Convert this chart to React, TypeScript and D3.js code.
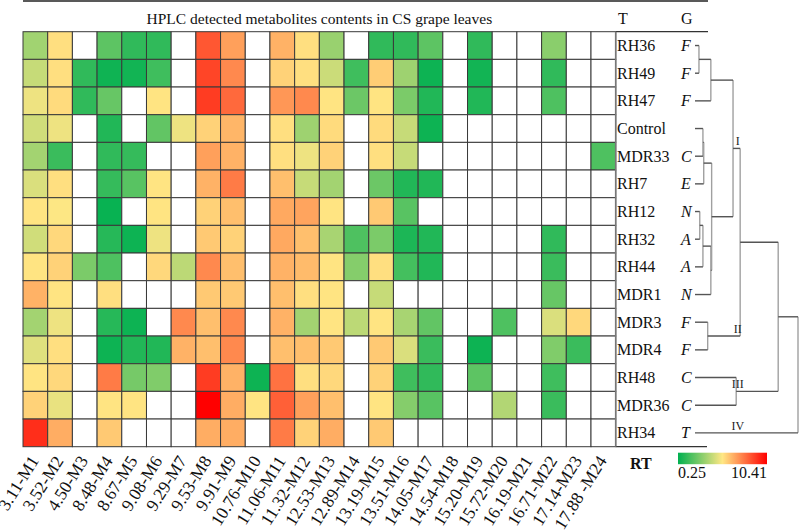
import React from "react";
import * as d3 from "d3";

const columns = [
  "3.11-M1", "3.52-M2", "4.50-M3", "8.48-M4", "8.67-M5", "9.08-M6", "9.29-M7", "9.53-M8",
  "9.91-M9", "10.76-M10", "11.06-M11", "11.32-M12", "12.53-M13", "12.89-M14", "13.19-M15",
  "13.51-M16", "14.05-M17", "14.54-M18", "15.20-M19", "15.72-M20", "16.19-M21", "16.71-M22",
  "17.14-M23", "17.88 -M24",
];

const rowNames = [
  "RH36", "RH49", "RH47", "Control", "MDR33", "RH7", "RH12", "RH32", "RH44", "MDR1",
  "MDR3", "MDR4", "RH48", "MDR36", "RH34",
];

const groups = ["F", "F", "F", "", "C", "E", "N", "A", "A", "N", "F", "F", "C", "C", "T"];

const _ = null;
const values: (number | null)[][] = [
  [3.45, 5.5, _, 2.1, 1.2, 1.2, _, 8.5, 6.9, _, 6.5, 5.5, 3.3, _, 1.2, 1.2, 2.1, _, 1.2, _, _, 3.0, _, _],
  [4.2, 5.5, 1.2, 0.55, 0.6, 1.5, _, 8.9, 7.4, _, 5.8, 5.5, 4.3, 1.5, 5.9, 3.4, 0.5, _, 0.6, _, _, 1.2, _, _],
  [5.0, 5.6, 1.2, 2.3, _, 5.4, _, 9.1, 8.1, _, 7.1, 7.4, 5.4, 2.4, 5.4, 2.7, 0.9, _, 0.9, _, _, 1.8, _, _],
  [4.4, 5.0, _, 0.9, _, 2.2, 5.0, 5.8, 6.4, _, 5.5, 3.4, 5.6, _, 5.6, 4.2, 0.5, _, _, _, _, _, _, _],
  [3.5, 1.4, _, 1.2, 1.3, _, _, 6.9, 6.5, _, 5.5, 5.0, 5.8, _, 5.5, 4.2, _, _, _, _, _, _, _, 1.8],
  [4.6, 5.5, _, 1.3, 2.0, 5.4, _, 6.5, 7.7, _, 6.2, 4.2, 3.5, _, 2.4, 0.9, 0.9, _, _, _, _, _, _, _],
  [5.4, 5.3, _, 0.4, _, 5.4, _, 5.8, 6.2, _, 6.7, 6.8, 5.4, _, 6.0, 2.0, _, _, _, _, _, _, _, _],
  [4.4, 5.65, _, 1.0, 0.5, 5.0, _, 6.0, 5.8, _, 6.7, 6.2, 3.6, 1.8, 2.7, 0.8, 0.9, _, _, _, _, 1.2, _, _],
  [5.4, 5.8, 2.7, 1.8, _, 5.65, 4.0, 7.4, 6.2, _, 6.5, 6.3, 5.4, 2.9, 5.5, 1.6, 0.9, _, _, _, _, 1.4, _, _],
  [6.5, 5.4, _, 5.5, _, _, _, 6.0, 6.0, _, 6.2, 5.5, 5.4, _, 4.2, _, _, _, _, _, _, 2.3, _, _],
  [3.5, 5.0, _, 1.0, 0.5, _, 7.4, 6.2, 7.4, _, 6.5, 3.5, 5.4, 4.0, 5.4, 3.6, 2.2, _, _, 1.8, _, 4.6, 5.65, _],
  [4.7, 5.5, _, 0.5, 0.9, 0.9, 6.5, 6.2, 7.4, _, 6.2, 6.2, 6.0, _, 6.0, 4.6, 1.4, _, 0.5, _, _, 2.8, 1.4, _],
  [5.4, 5.65, _, 7.7, 2.6, 2.8, _, 9.1, 6.5, 0.5, 7.9, 5.5, 5.65, _, 5.8, 1.5, 1.2, _, 2.1, _, _, 1.5, _, _],
  [5.8, 4.9, _, 5.4, 5.4, _, _, 10.41, 6.6, 5.4, 8.3, 6.9, 6.2, _, 5.4, 2.9, 2.0, _, _, 3.8, _, 1.4, _, _],
  [9.4, 6.6, _, 6.0, _, _, _, 6.6, 6.6, _, 7.7, 5.8, 6.6, _, 6.0, _, _, _, _, _, _, _, _, _],
];

const colorStops = [0.25, 5.33, 10.41];
const colorRange = ["#00b050", "#ffe784", "#ff0000"];
const legendTicks = ["0.25", "10.41"];

// dendrogram: merges with heights (distance units)
const merges = [
  { id: "n1", children: ["RH36", "RH49"], height: 0.5 },
  { id: "n2", children: ["n1", "RH47"], height: 2.0 },
  { id: "n3", children: ["Control", "MDR33"], height: 1.0 },
  { id: "n4", children: ["n3", "RH7"], height: 1.1 },
  { id: "n5", children: ["RH12", "RH32"], height: 0.6 },
  { id: "n6", children: ["n5", "RH44"], height: 1.0 },
  { id: "n7", children: ["n6", "MDR1"], height: 2.0 },
  { id: "n8", children: ["n4", "n7"], height: 2.1 },
  { id: "n9", children: ["n2", "n8"], height: 4.8 },
  { id: "n10", children: ["MDR3", "MDR4"], height: 1.6 },
  { id: "n11", children: ["n9", "n10"], height: 5.7 },
  { id: "n12", children: ["RH48", "MDR36"], height: 5.2 },
  { id: "n13", children: ["n11", "n12"], height: 10.5 },
  { id: "root", children: ["n13", "RH34"], height: 13 },
];
const clusterLabels = [
  { node: "n9", label: "I" },
  { node: "n10", label: "II" },
  { node: "n12", label: "III" },
  { node: "RH34", label: "IV" },
];

const FONT = "'Liberation Serif', 'Times New Roman', serif";

export default function App() {
  const W = 800, H = 532;
  const gridL = 23, gridR = 615.7, gridT = 31.7, gridB = 446.7;

  const x = d3.scaleBand<number>().domain(d3.range(columns.length)).range([gridL, gridR]);
  const y = d3.scaleBand<string>().domain(rowNames).range([gridT, gridB]);
  const color = d3.scaleLinear<string>().domain(colorStops).range(colorRange).interpolate(d3.interpolateRgb);

  // dendrogram positions
  const xd = d3.scaleLinear().domain([0, 13]).range([695, 798]);
  const pos: Record<string, { x: number; y: number }> = {};
  rowNames.forEach((r) => (pos[r] = { x: xd(0), y: (y(r) as number) + y.bandwidth() / 2 }));
  const hLines: { x1: number; y1: number; x2: number; y2: number }[] = [];
  const vLines: { x1: number; y1: number; x2: number; y2: number }[] = [];
  merges.forEach((m) => {
    const cs = m.children.map((c) => pos[c]);
    const nx = xd(m.height);
    const ny = d3.mean(cs, (c) => c.y) as number;
    cs.forEach((c) => hLines.push({ x1: c.x, y1: c.y, x2: nx, y2: c.y }));
    vLines.push({ x1: nx, y1: cs[0].y, x2: nx, y2: cs[cs.length - 1].y });
    pos[m.id] = { x: nx, y: ny };
  });
  const labelX = xd(5.4);

  const legX0 = 678, legX1 = 767, legY = 452.7, legH = 11.5;
  const legScale = d3.scaleLinear().domain([colorStops[0], colorStops[2]]).range([0, 100]);

  return (
    <svg width={W} height={H} style={{ position: "absolute", left: 0, top: 0, background: "#fff" }} fontFamily={FONT}>
      <defs>
        <linearGradient id="leg" x1="0" x2="1" y1="0" y2="0">
          {colorStops.map((s, i) => (
            <stop key={i} offset={`${legScale(s)}%`} stopColor={colorRange[i]} />
          ))}
        </linearGradient>
      </defs>

      {/* frame lines */}
      <line x1={gridL} x2={708} y1={1} y2={1} stroke="#222" strokeWidth={1.5} />
      <line x1={gridR} x2={708} y1={gridT} y2={gridT} stroke="#333" strokeWidth={1.2} />
      <line x1={gridR} x2={707} y1={gridB} y2={gridB} stroke="#333" strokeWidth={1.2} />

      <text x={(gridL + gridR) / 2} y={24} textAnchor="middle" fontSize={15.5} fill="#111">
        HPLC detected metabolites contents in CS grape leaves
      </text>
      <text x={618} y={24} fontSize={16} fill="#111">T</text>
      <text x={681} y={24} fontSize={16} fill="#111">G</text>

      {/* cells */}
      {values.map((row, ri) =>
        row.map((v, ci) => (
          <rect
            key={`${ri}-${ci}`}
            x={x(ci)}
            y={y(rowNames[ri])}
            width={x.bandwidth()}
            height={y.bandwidth()}
            fill={v == null ? "#fff" : color(v)}
            stroke="#3a3a3a"
            strokeWidth={1}
          />
        ))
      )}
      <line x1={gridR} x2={gridR} y1={gridT} y2={gridB} stroke="#777" strokeWidth={1.6} />

      {/* row labels and groups */}
      {rowNames.map((r, i) => (
        <g key={r}>
          <text x={617} y={(y(r) as number) + y.bandwidth() / 2 + 5.5} fontSize={16} fill="#111">
            {r}
          </text>
          <text x={681} y={(y(r) as number) + y.bandwidth() / 2 + 5.5} fontSize={16} fontStyle="italic" fill="#111">
            {groups[i]}
          </text>
        </g>
      ))}

      {/* dendrogram */}
      {vLines.map((l, i) => (
        <line key={"v" + i} x1={l.x1} y1={l.y1} x2={l.x2} y2={l.y2} stroke="#a0a0a0" strokeWidth={1.4} />
      ))}
      {hLines.map((l, i) => (
        <line key={"h" + i} x1={l.x1} y1={l.y1} x2={l.x2} y2={l.y2} stroke="#555" strokeWidth={1.4} />
      ))}
      {clusterLabels.map((c) => (
        <text key={c.label} x={labelX} y={pos[c.node].y - 3} textAnchor="middle" fontSize={12} fill="#222">
          {c.label}
        </text>
      ))}

      {/* column labels */}
      {columns.map((c, i) => {
        const cx = (x(i) as number) + x.bandwidth() / 2 + 4;
        const cy = gridB + 14;
        return (
          <text key={c} x={cx} y={cy} textAnchor="end" fontSize={17.5} fill="#111" transform={`rotate(-58 ${cx} ${cy})`}>
            {c}
          </text>
        );
      })}

      {/* legend */}
      <text x={630} y={469} fontSize={16} fontWeight="bold" fill="#111">RT</text>
      <rect x={legX0} y={legY} width={legX1 - legX0} height={legH} fill="url(#leg)" />
      <text x={legX0} y={478} fontSize={16} fill="#111">{legendTicks[0]}</text>
      <text x={legX1} y={478} fontSize={16} textAnchor="end" fill="#111">{legendTicks[1]}</text>
    </svg>
  );
}
